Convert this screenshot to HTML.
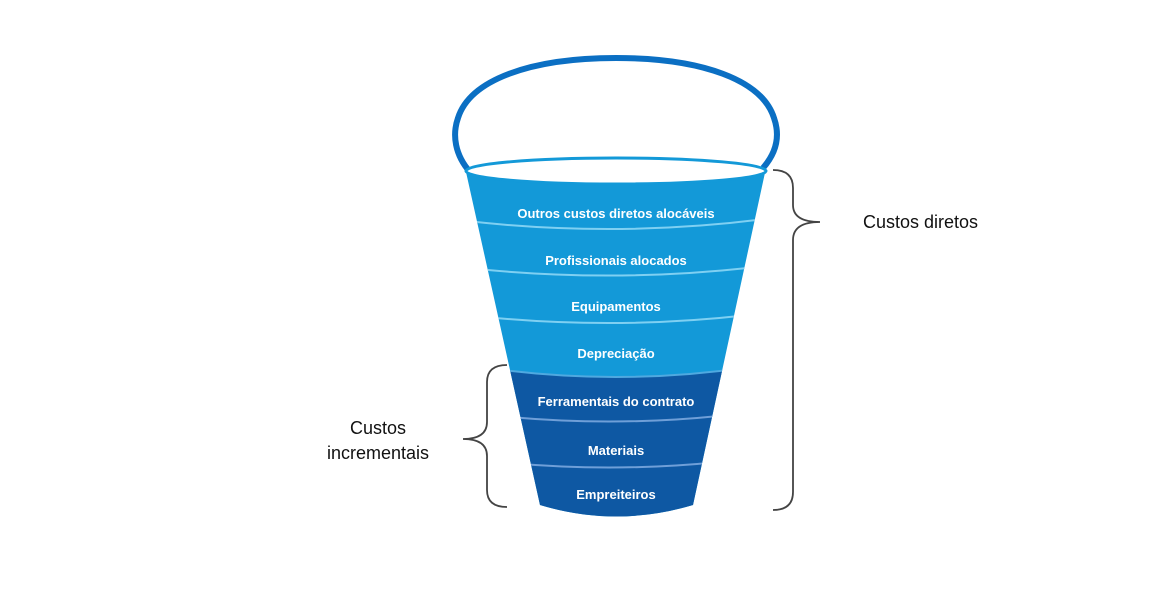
<!DOCTYPE html>
<html><head><meta charset="utf-8"><style>
html,body{margin:0;padding:0;background:#fff;}
svg{display:block;}
text{font-family:"Liberation Sans",sans-serif;}
</style></head><body>
<svg width="1173" height="597" viewBox="0 0 1173 597" xmlns="http://www.w3.org/2000/svg">
<defs>
<clipPath id="body"><path d="M466 172 Q616 190 766 168 L693 505 Q616 528 540 505 Z"/></clipPath>
</defs>
<!-- handle -->
<path d="M470 172 C455 155 452 135 458 118 C470 80 530 58 616 58 C702 58 762 80 774 118 C780 135 777 152 763 168" fill="none" stroke="#0b6fc3" stroke-width="6"/>
<g clip-path="url(#body)">
<rect x="400" y="150" width="400" height="400" fill="#1399d8"/>
<path d="M450 362 Q616 392 780 362 L780 560 L450 560 Z" fill="#0e58a3"/>
<g fill="none" stroke-width="2">
<path d="M450 219 Q616 240 780 217" stroke="#7fd0f2"/>
<path d="M450 266 Q616 286 780 264" stroke="#7fd0f2"/>
<path d="M450 313 Q616 334 780 311" stroke="#7fd0f2"/>
<path d="M450 362 Q616 392 780 362" stroke="#4fa9e0"/>
<path d="M450 410 Q616 434 780 408" stroke="#6f9fd8"/>
<path d="M450 456 Q616 480 780 454" stroke="#6f9fd8"/>
</g>
</g>
<!-- rim -->
<ellipse cx="616" cy="171" rx="150" ry="13" fill="#fff" stroke="#1399d8" stroke-width="3"/>
<g fill="#fff" font-size="13" font-weight="bold" text-anchor="middle">
<text x="616" y="218">Outros custos diretos alocáveis</text>
<text x="616" y="265">Profissionais alocados</text>
<text x="616" y="311">Equipamentos</text>
<text x="616" y="358">Depreciação</text>
<text x="616" y="406">Ferramentais do contrato</text>
<text x="616" y="455">Materiais</text>
<text x="616" y="499">Empreiteiros</text>
</g>
<!-- braces -->
<g fill="none" stroke="#444" stroke-width="1.8">
<path d="M773 170 Q793 170 793 188 L793 205 Q793 222 820 222 Q793 222 793 240 L793 492 Q793 510 773 510"/>
<path d="M507 365 Q487 365 487 382 L487 422 Q487 439 463 439 Q487 439 487 456 L487 490 Q487 507 507 507"/>
</g>
<g font-size="18" fill="#111">
<text x="863" y="228">Custos diretos</text>
<text x="378" y="434" text-anchor="middle">Custos</text>
<text x="378" y="459" text-anchor="middle">incrementais</text>
</g>
</svg>
</body></html>
